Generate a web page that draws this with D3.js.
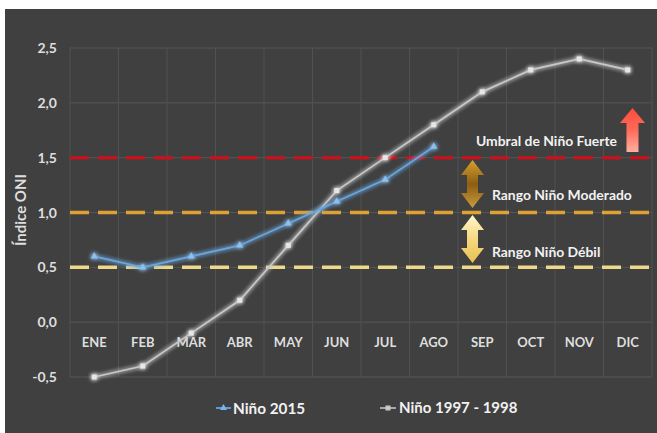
<!DOCTYPE html>
<html><head><meta charset="utf-8">
<script src="https://cdn.jsdelivr.net/npm/d3@7"></script>
<style>
html,body{margin:0;padding:0;background:#fff;}
svg{display:block;}
text{font-family:"Lato","Liberation Sans",sans-serif;font-weight:bold;}
</style></head>
<body>
<svg id="c" width="657" height="433"></svg>
<script>
const months = ["ENE","FEB","MAR","ABR","MAY","JUN","JUL","AGO","SEP","OCT","NOV","DIC"];
const nino2015 = [0.6,0.5,0.6,0.7,0.9,1.1,1.3,1.6];
const nino9798 = [-0.5,-0.4,-0.1,0.2,0.7,1.2,1.5,1.8,2.1,2.3,2.4,2.3];
const yTicks = [-0.5,0,0.5,1,1.5,2,2.5];
const thresholds = [
  {v:1.5, color:"#c0141e"},
  {v:1.0, color:"#e0a032"},
  {v:0.5, color:"#eed88a"}
];
const seriesNames = ["Niño 2015","Niño 1997 - 1998"];

const svg = d3.select("#c");
const W=657,H=433;
const L=70,R=652,T=48,B=377;

svg.append("rect").attr("x",5).attr("y",9).attr("width",W-5).attr("height",H-9).attr("fill","#404040");

const defs = svg.append("defs");
const glow = defs.append("filter").attr("id","glow").attr("x","-20%").attr("y","-20%").attr("width","140%").attr("height","140%");
glow.append("feGaussianBlur").attr("in","SourceGraphic").attr("stdDeviation",2.2).attr("result","b");
const fm = glow.append("feMerge");
fm.append("feMergeNode").attr("in","b");
fm.append("feMergeNode").attr("in","b");
fm.append("feMergeNode").attr("in","SourceGraphic");

function grad(id, stops){
  const g = defs.append("linearGradient").attr("id",id).attr("x1",0).attr("y1",0).attr("x2",0).attr("y2",1);
  stops.forEach(s=>g.append("stop").attr("offset",s[0]).attr("stop-color",s[1]));
}
grad("gRed",[[0,"#ff4a3a"],[0.5,"#ff6a5a"],[1,"#ffb0a0"]]);
grad("gBrown",[[0,"#d9a030"],[0.5,"#8c5e10"],[1,"#c89a40"]]);
grad("gYel",[[0,"#fff6c8"],[0.5,"#f5d880"],[1,"#e8c050"]]);

const x = d3.scaleBand().domain(months).range([L,R]).padding(0);
const y = d3.scaleLinear().domain([-0.5,2.5]).range([B,T]);
const cx = m => x(m)+x.bandwidth()/2;
const fmt = d => d.toFixed(1).replace(".",",");

// gridlines
const grid = svg.append("g");
grid.selectAll("line.h").data(yTicks).join("line")
  .attr("x1",L).attr("x2",R).attr("y1",d=>y(d)).attr("y2",d=>y(d))
  .attr("stroke","#565656").attr("stroke-width",1);
const vb = months.map(m=>x(m)).concat([R]);
grid.selectAll("line.v").data(vb).join("line")
  .attr("x1",d=>d).attr("x2",d=>d).attr("y1",T).attr("y2",B)
  .attr("stroke","#515151").attr("stroke-width",1);

// threshold dashed lines
svg.append("g").selectAll("line").data(thresholds).join("line")
  .attr("x1",L).attr("x2",R).attr("y1",d=>y(d.v)).attr("y2",d=>y(d.v))
  .attr("stroke",d=>d.color).attr("stroke-width",3.5).attr("stroke-dasharray","19,9");

// y axis labels
svg.append("g").selectAll("text").data(yTicks).join("text")
  .attr("x",57).attr("y",d=>y(d)).attr("dy","0.36em").attr("text-anchor","end")
  .attr("fill","#dedede").attr("font-size",14)
  .text(fmt);

// x labels
svg.append("g").selectAll("text").data(months).join("text")
  .attr("x",d=>cx(d)).attr("y",y(0)+20).attr("dy","0.36em").attr("text-anchor","middle")
  .attr("fill","#dedede").attr("font-size",13).text(d=>d);

// y title
svg.append("text").attr("transform",`translate(21,210) rotate(-90)`)
  .attr("text-anchor","middle").attr("dy","0.36em").attr("fill","#dedede").attr("font-size",15).text("Índice ONI");

// lines
const line = d3.line().x((d,i)=>cx(months[i])).y(d=>y(d));
const gGray = svg.append("g").attr("filter","url(#glow)");
gGray.append("path").datum(nino9798).attr("d",line).attr("fill","none").attr("stroke","#c8c8c8").attr("stroke-width",1.7);
gGray.selectAll("rect").data(nino9798).join("rect")
  .attr("x",(d,i)=>cx(months[i])-2.5).attr("y",d=>y(d)-2.5).attr("width",5).attr("height",5).attr("fill","#e6e6e6");

const gBlue = svg.append("g").attr("filter","url(#glow)");
gBlue.append("path").datum(nino2015).attr("d",line).attr("fill","none").attr("stroke","#6aa6de").attr("stroke-width",1.7);
const tri = d3.symbol().type(d3.symbolTriangle).size(22);
gBlue.selectAll("path.m").data(nino2015).join("path").attr("class","m")
  .attr("transform",(d,i)=>`translate(${cx(months[i])},${y(d)})`).attr("d",tri).attr("fill","#8cc0ee");

// arrows
function upArrow(xc, yTop, yBot, fill){
  const hw=12.5, sw=6, hh=15;
  const p = `M${xc},${yTop} L${xc+hw},${yTop+hh} L${xc+sw},${yTop+hh} L${xc+sw},${yBot} L${xc-sw},${yBot} L${xc-sw},${yTop+hh} L${xc-hw},${yTop+hh} Z`;
  svg.append("path").attr("d",p).attr("fill",fill);
}
function dblArrow(xc, yTop, yBot, fill){
  const hw=11.5, sw=5.5, hh=15;
  const p = `M${xc},${yTop} L${xc+hw},${yTop+hh} L${xc+sw},${yTop+hh} L${xc+sw},${yBot-hh} L${xc+hw},${yBot-hh} L${xc},${yBot} L${xc-hw},${yBot-hh} L${xc-sw},${yBot-hh} L${xc-sw},${yTop+hh} L${xc-hw},${yTop+hh} Z`;
  svg.append("path").attr("d",p).attr("fill",fill);
}
upArrow(632.5, 108, 152, "url(#gRed)");
dblArrow(472.5, 160, 208, "url(#gBrown)");
dblArrow(472.5, 215, 263, "url(#gYel)");

// annotations
const ann = [
  {t:"Umbral de Niño Fuerte", x:476, y:141},
  {t:"Rango Niño Moderado", x:492, y:195},
  {t:"Rango Niño Débil", x:492, y:252}
];
svg.append("g").selectAll("text").data(ann).join("text")
  .attr("x",d=>d.x).attr("y",d=>d.y).attr("dy","0.36em").attr("fill","#f2f2f2").attr("font-size",13.9).text(d=>d.t);

// legend
const leg = svg.append("g");
const ly = 408;
leg.append("line").attr("x1",216).attr("x2",231).attr("y1",ly).attr("y2",ly).attr("stroke","#5b9bd5").attr("stroke-width",2);
leg.append("path").attr("transform",`translate(223.5,${ly})`).attr("d",tri).attr("fill","#7ab3e6");
leg.append("text").attr("x",233).attr("y",ly).attr("dy","0.36em").attr("fill","#f2f2f2").attr("font-size",15.3).text(seriesNames[0]);
leg.append("line").attr("x1",380).attr("x2",396).attr("y1",ly).attr("y2",ly).attr("stroke","#a8a8a8").attr("stroke-width",2);
leg.append("rect").attr("x",385.5).attr("y",ly-2.5).attr("width",5).attr("height",5).attr("fill","#c8c8c8");
leg.append("text").attr("x",399).attr("y",ly).attr("dy","0.36em").attr("fill","#f2f2f2").attr("font-size",15).text(seriesNames[1]);
</script>
</body></html>
